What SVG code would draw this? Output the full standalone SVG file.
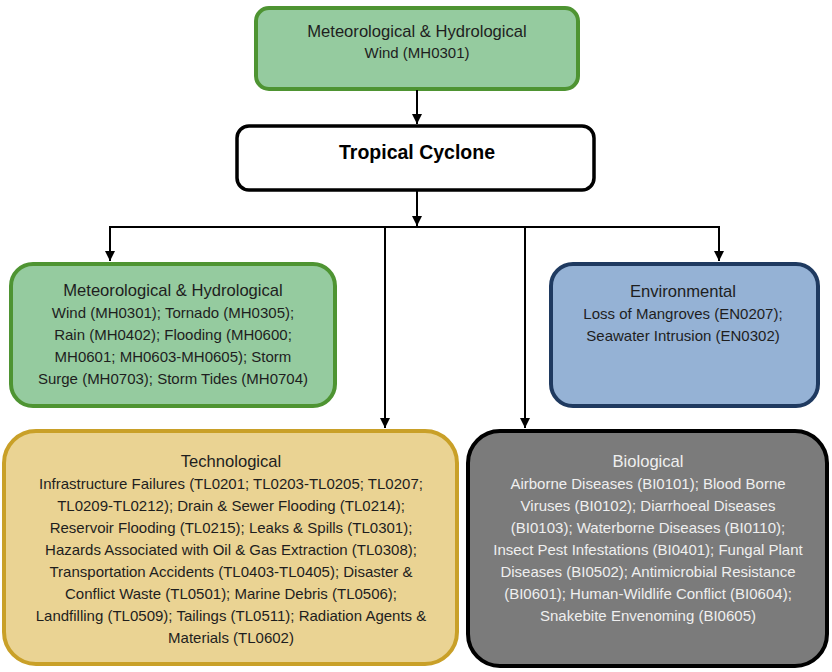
<svg xmlns="http://www.w3.org/2000/svg" width="832" height="672" viewBox="0 0 832 672">
<defs>
<marker id="ah" viewBox="0 0 10 10" refX="10" refY="5" markerWidth="5" markerHeight="5" orient="auto" markerUnits="strokeWidth"><path d="M0,0 L10,5 L0,10 Z" fill="#000"/></marker>
<style>
text{font-family:"Liberation Sans",Arial,sans-serif;font-size:15px;text-anchor:middle;fill:#1e1e1e}
text.t{font-size:16.6px}
.mh rect{fill:#95cb9f;stroke:#4e9432;stroke-width:4}
.en rect{fill:#95b2d5;stroke:#1f3a60;stroke-width:4}
.tl rect{fill:#ead393;stroke:#c9a028;stroke-width:4}
.bi rect{fill:#7b7b7b;stroke:#000;stroke-width:4}
.bi text{fill:#efefef}
.tc rect{fill:#fff;stroke:#000;stroke-width:3.5}
.tc text{font-weight:bold;font-size:19.5px;fill:#000}
.c line,.c path{stroke:#000;stroke-width:2;fill:none}
</style>
</defs>
<g id="top" class="mh">
<rect x="256" y="8" width="322" height="81" rx="13"/>
<text class="t" x="417" y="37">Meteorological &amp; Hydrological</text>
<text x="417" y="58">Wind (MH0301)</text>
</g>
<g id="tc" class="tc">
<rect x="237" y="126" width="357" height="64" rx="12"/>
<text x="417" y="159">Tropical Cyclone</text>
</g>
<g id="mh" class="mh">
<rect x="11" y="264" width="324" height="142" rx="22"/>
<text class="t" x="173" y="296">Meteorological &amp; Hydrological</text>
<text x="173" y="318">Wind (MH0301); Tornado (MH0305);</text>
<text x="173" y="340">Rain (MH0402); Flooding (MH0600;</text>
<text x="173" y="362">MH0601; MH0603-MH0605); Storm</text>
<text x="173" y="384">Surge (MH0703); Storm Tides (MH0704)</text>
</g>
<g id="en" class="en">
<rect x="551" y="264" width="267" height="142" rx="22"/>
<text class="t" x="683" y="297">Environmental</text>
<text x="683" y="319">Loss of Mangroves (EN0207);</text>
<text x="683" y="341">Seawater Intrusion (EN0302)</text>
</g>
<g id="tl" class="tl">
<rect x="4" y="431" width="453" height="233" rx="32"/>
<text class="t" x="231" y="467">Technological</text>
<text x="231" y="489">Infrastructure Failures (TL0201; TL0203-TL0205; TL0207;</text>
<text x="231" y="511">TL0209-TL0212); Drain &amp; Sewer Flooding (TL0214);</text>
<text x="231" y="533">Reservoir Flooding (TL0215); Leaks &amp; Spills (TL0301);</text>
<text x="231" y="555">Hazards Associated with Oil &amp; Gas Extraction (TL0308);</text>
<text x="231" y="577">Transportation Accidents (TL0403-TL0405); Disaster &amp;</text>
<text x="231" y="599">Conflict Waste (TL0501); Marine Debris (TL0506);</text>
<text x="231" y="621">Landfilling (TL0509); Tailings (TL0511); Radiation Agents &amp;</text>
<text x="231" y="643">Materials (TL0602)</text>
</g>
<g id="bi" class="bi">
<rect x="468" y="431" width="359" height="235" rx="32"/>
<text class="t" x="648" y="467">Biological</text>
<text x="648" y="489">Airborne Diseases (BI0101); Blood Borne</text>
<text x="648" y="511">Viruses (BI0102); Diarrhoeal Diseases</text>
<text x="648" y="533">(BI0103); Waterborne Diseases (BI0110);</text>
<text x="648" y="555">Insect Pest Infestations (BI0401); Fungal Plant</text>
<text x="648" y="577">Diseases (BI0502); Antimicrobial Resistance</text>
<text x="648" y="599">(BI0601); Human-Wildlife Conflict (BI0604);</text>
<text x="648" y="621">Snakebite Envenoming (BI0605)</text>
</g>
<g id="connectors" class="c">
<line x1="417" y1="90" x2="417" y2="124" marker-end="url(#ah)"/>
<line x1="417" y1="191" x2="417" y2="226" marker-end="url(#ah)"/>
<line x1="109" y1="227" x2="720" y2="227"/>
<line x1="110" y1="227" x2="110" y2="261" marker-end="url(#ah)"/>
<line x1="385" y1="227" x2="385" y2="428" marker-end="url(#ah)"/>
<line x1="525" y1="227" x2="525" y2="428" marker-end="url(#ah)"/>
<line x1="719" y1="227" x2="719" y2="261" marker-end="url(#ah)"/>
</g>
</svg>
